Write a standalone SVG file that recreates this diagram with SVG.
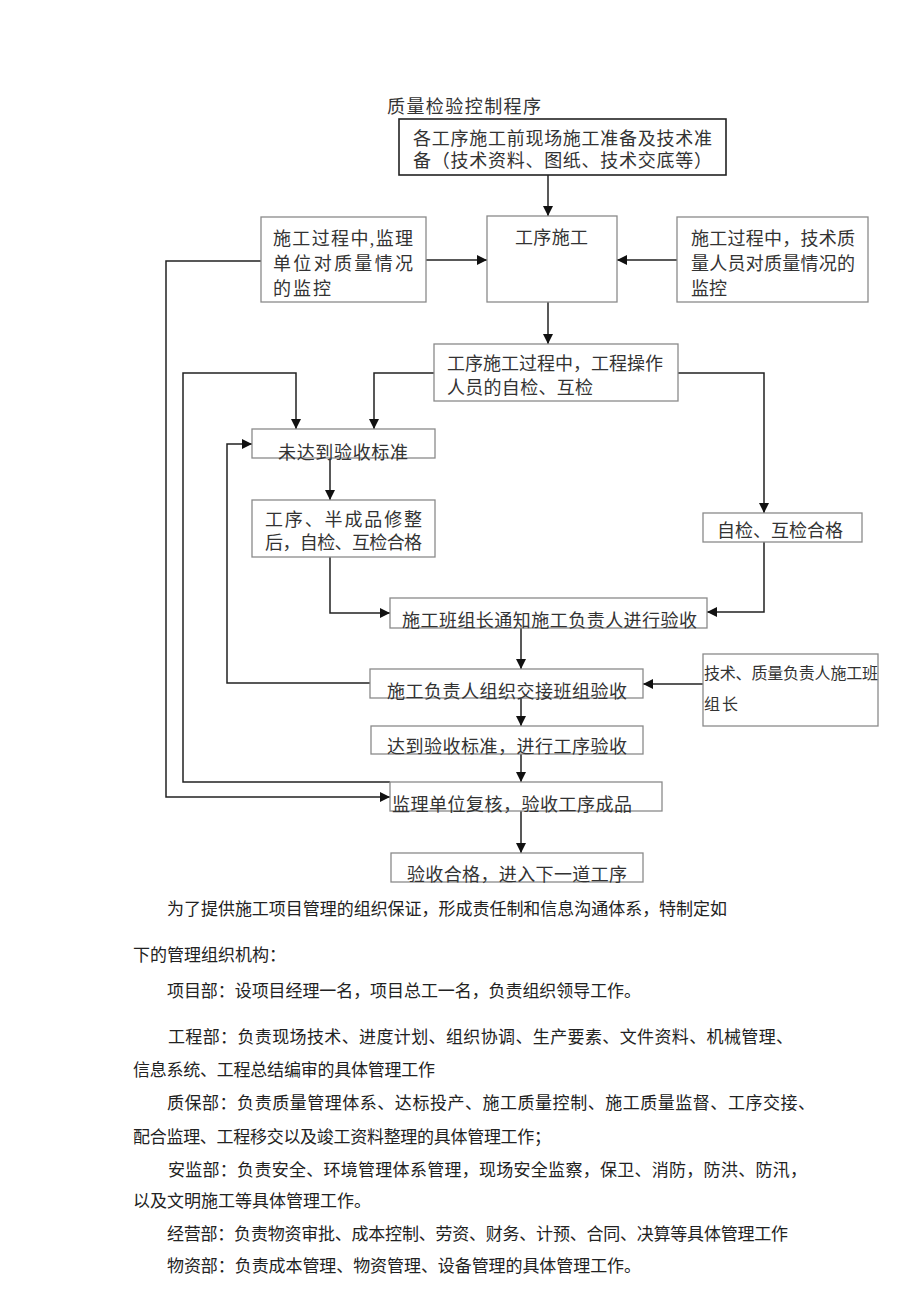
<svg xmlns="http://www.w3.org/2000/svg" width="920" height="1301" viewBox="0 0 920 1301">
<style>
text{font-family:"Liberation Serif","Noto Sans CJK SC",serif;fill:#333}
.t{font-size:18px}
.s{font-size:16px}
.b{font-size:17px;fill:#222}
.box{fill:#fff;stroke:#8a8a8a;stroke-width:1.3}
.box1{fill:#fff;stroke:#222;stroke-width:1.6}
.c{fill:none;stroke:#222;stroke-width:1.5}
</style>
<defs>
<marker id="ah" markerUnits="userSpaceOnUse" markerWidth="10" markerHeight="10" refX="10" refY="5" orient="auto">
<path d="M0,0 L10,5 L0,10 z" fill="#111"/>
</marker>
</defs>
<rect width="920" height="1301" fill="#fff"/>
<text class="t" x="387" y="113" textLength="154" lengthAdjust="spacing">质量检验控制程序</text>

<g id="connectors">
<path class="c" d="M548,175 V216" marker-end="url(#ah)"/>
<path class="c" d="M426,260 H487" marker-end="url(#ah)"/>
<path class="c" d="M677,260 H617" marker-end="url(#ah)"/>
<path class="c" d="M548,302 V344" marker-end="url(#ah)"/>
<path class="c" d="M434,373 H374 V429" marker-end="url(#ah)"/>
<path class="c" d="M678,373 H764 V513" marker-end="url(#ah)"/>
<path class="c" d="M390,782 H183 V373 H296 V429" marker-end="url(#ah)"/>
<path class="c" d="M261,261 H166 V797 H390" marker-end="url(#ah)"/>
<path class="c" d="M370,683 H227 V444 H252" marker-end="url(#ah)"/>
<path class="c" d="M330,458 V500" marker-end="url(#ah)"/>
<path class="c" d="M330,557 V613 H390" marker-end="url(#ah)"/>
<path class="c" d="M764,542 V612 H707" marker-end="url(#ah)"/>
<path class="c" d="M521,628 V669" marker-end="url(#ah)"/>
<path class="c" d="M703,684 H643" marker-end="url(#ah)"/>
<path class="c" d="M521,698 V726" marker-end="url(#ah)"/>
<path class="c" d="M521,754 V782" marker-end="url(#ah)"/>
<path class="c" d="M521,811 V853" marker-end="url(#ah)"/>
</g>

<g id="n-prep">
<rect class="box1" x="399" y="119" width="327" height="56"/>
<text class="t" x="413" y="145" textLength="299" lengthAdjust="spacing">各工序施工前现场施工准备及技术准</text>
<text class="t" x="413" y="167" textLength="299" lengthAdjust="spacing">备（技术资料、图纸、技术交底等）</text>
</g>

<g id="n-work">
<rect class="box" x="487" y="216" width="130" height="86"/>
<text class="t" x="515" y="244" textLength="73" lengthAdjust="spacing">工序施工</text>
</g>

<g id="n-supervise">
<rect class="box" x="261" y="217" width="165" height="85"/>
<text class="t" x="273" y="245" textLength="140" lengthAdjust="spacing">施工过程中,监理</text>
<text class="t" x="273" y="270" textLength="140" lengthAdjust="spacing">单位对质量情况</text>
<text class="t" x="273" y="295" textLength="58" lengthAdjust="spacing">的监控</text>
</g>

<g id="n-tech">
<rect class="box" x="677" y="217" width="191" height="85"/>
<text class="t" x="691" y="245" textLength="164" lengthAdjust="spacing">施工过程中，技术质</text>
<text class="t" x="691" y="270" textLength="164" lengthAdjust="spacing">量人员对质量情况的</text>
<text class="t" x="691" y="295" textLength="36" lengthAdjust="spacing">监控</text>
</g>

<g id="n-selfcheck">
<rect class="box" x="434" y="344" width="244" height="57"/>
<text class="t" x="447" y="370" textLength="216" lengthAdjust="spacing">工序施工过程中，工程操作</text>
<text class="t" x="447" y="394" textLength="146" lengthAdjust="spacing">人员的自检、互检</text>
</g>

<g id="n-fail">
<rect class="box" x="252" y="429" width="183" height="29"/>
<text class="t" x="278" y="459" textLength="130" lengthAdjust="spacing">未达到验收标准</text>
</g>

<g id="n-fix">
<rect class="box" x="252" y="500" width="183" height="57"/>
<text class="t" x="265" y="526" textLength="157" lengthAdjust="spacing">工序、半成品修整</text>
<text class="t" x="265" y="549" textLength="157" lengthAdjust="spacing">后，自检、互检合格</text>
</g>

<g id="n-pass">
<rect class="box" x="703" y="513" width="159" height="29"/>
<text class="t" x="717" y="537" textLength="126" lengthAdjust="spacing">自检、互检合格</text>
</g>

<g id="n-notify">
<rect class="box" x="390" y="598" width="317" height="30"/>
<text class="t" x="402" y="627" textLength="295" lengthAdjust="spacing">施工班组长通知施工负责人进行验收</text>
</g>

<g id="n-organize">
<rect class="box" x="370" y="669" width="273" height="29"/>
<text class="t" x="387" y="698" textLength="240" lengthAdjust="spacing">施工负责人组织交接班组验收</text>
</g>

<g id="n-leader">
<rect class="box" x="703" y="654" width="175" height="72"/>
<text class="s" x="704" y="679" textLength="174" lengthAdjust="spacing">技术、质量负责人施工班</text>
<text class="s" x="704" y="710" textLength="34" lengthAdjust="spacing">组长</text>
</g>

<g id="n-reach">
<rect class="box" x="371" y="726" width="272" height="28"/>
<text class="t" x="387" y="753" textLength="240" lengthAdjust="spacing">达到验收标准，进行工序验收</text>
</g>

<g id="n-review">
<rect class="box" x="390" y="782" width="272" height="29"/>
<text class="t" x="392" y="811" textLength="240" lengthAdjust="spacing">监理单位复核，验收工序成品</text>
</g>

<g id="n-next">
<rect class="box" x="391" y="853" width="252" height="29"/>
<text class="t" x="407" y="881" textLength="220" lengthAdjust="spacing">验收合格，进入下一道工序</text>
</g>

<g id="body">
<text class="b" x="167" y="915" textLength="560" lengthAdjust="spacing">为了提供施工项目管理的组织保证，形成责任制和信息沟通体系，特制定如</text>
<text class="b" x="133" y="961">下的管理组织机构：</text>
<text class="b" x="167" y="997" textLength="474" lengthAdjust="spacing">项目部：设项目经理一名，项目总工一名，负责组织领导工作。</text>
<text class="b" x="168" y="1043" textLength="625" lengthAdjust="spacing">工程部：负责现场技术、进度计划、组织协调、生产要素、文件资料、机械管理、</text>
<text class="b" x="133" y="1076" textLength="302" lengthAdjust="spacing">信息系统、工程总结编审的具体管理工作</text>
<text class="b" x="167" y="1109" textLength="648" lengthAdjust="spacing">质保部：负责质量管理体系、达标投产、施工质量控制、施工质量监督、工序交接、</text>
<text class="b" x="133" y="1143" textLength="418" lengthAdjust="spacing">配合监理、工程移交以及竣工资料整理的具体管理工作；</text>
<text class="b" x="168" y="1176" textLength="639" lengthAdjust="spacing">安监部：负责安全、环境管理体系管理，现场安全监察，保卫、消防，防洪、防汛，</text>
<text class="b" x="133" y="1207">以及文明施工等具体管理工作。</text>
<text class="b" x="167" y="1240" textLength="621" lengthAdjust="spacing">经营部：负责物资审批、成本控制、劳资、财务、计预、合同、决算等具体管理工作</text>
<text class="b" x="167" y="1272" textLength="474" lengthAdjust="spacing">物资部：负责成本管理、物资管理、设备管理的具体管理工作。</text>
</g>
</svg>
